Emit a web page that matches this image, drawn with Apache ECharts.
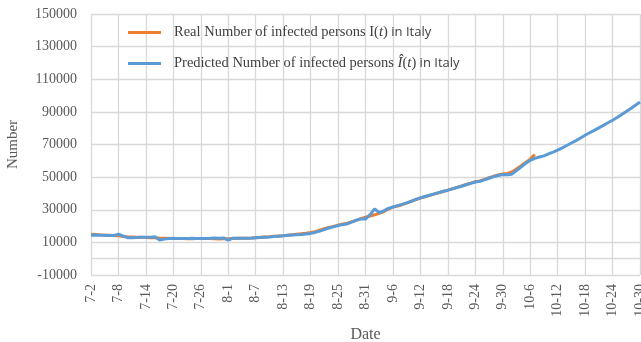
<!DOCTYPE html>
<html>
<head>
<meta charset="utf-8">
<script src="https://cdn.jsdelivr.net/npm/echarts@6/dist/echarts.min.js"></script>
<style>
html,body{margin:0;padding:0;background:#fff;}
#c{width:641px;height:342px;}
</style>
</head>
<body>
<div id="c"></div>
<script>
// Categories: 7-2 .. 10-30
var categories = [];
(function(){
  var months = [[7,2,31],[8,1,31],[9,1,30],[10,1,30]];
  months.forEach(function(m){ for (var d=m[1]; d<=m[2]; d++) categories.push(m[0]+'-'+d); });
})();

var realValues = [
15000,14800,14600,14400,14300,14200,14000,13600,13400,13300,
13200,13100,13000,12900,12800,12600,12500,12400,12400,12300,
12300,12200,12200,12300,12300,12300,12300,12200,12100,12200,
12200,12400,12500,12500,12600,12700,12900,13100,13300,13400,
13700,13900,14100,14400,14700,15000,15300,15600,16000,16600,
17500,18400,19200,19800,20600,21300,21800,22700,23500,24600,
25500,26200,26900,27800,28900,30400,31600,32300,33100,34100,
35100,36200,37200,38000,38800,39600,40400,41200,42000,42900,
43700,44600,45500,46300,47200,47700,48600,49600,50500,51300,
51900,52300,53200,55000,57000,59000,61000,63800
];

var predictedValues = [
14400,14500,14400,14300,14200,14200,15000,13900,12900,12800,
13000,13100,13100,13200,13400,11500,12000,12300,12500,12300,
12400,12300,12500,12400,12300,12400,12500,12700,12600,12700,
11400,12600,12500,12600,12500,12600,12800,13000,13200,13300,
13600,13700,14000,14300,14500,14600,14800,15200,15500,16100,
16900,17800,18800,19500,20300,20900,21300,22400,23600,24400,
24300,27000,30500,28200,29300,30800,31700,32500,33300,34200,
35200,36300,37300,38100,38900,39700,40500,41300,42000,42800,
43600,44400,45300,46200,47000,47500,48300,49300,50300,51000,
51600,51500,51800,54000,56200,58400,60300,61500,62300,63000,
64200,65300,66500,67900,69400,70900,72400,74000,75700,77200,
78700,80200,81700,83300,84900,86600,88400,90200,92100,94100,
96100
];

var yMin = -10000, yMax = 150000, yInterval = 20000;

var serif = '"Liberation Serif","Times New Roman",serif';
var chart = echarts.init(document.getElementById('c'));
chart.setOption({
  animation: false,
  backgroundColor: '#ffffff',
  grid: { left: 91, top: 14, right: 1, bottom: 67, containLabel: false, outerBoundsMode: 'none' },
  legend: {
    orient: 'vertical',
    left: 123,
    top: 20,
    itemWidth: 33,
    itemHeight: 3,
    itemGap: 16,
    icon: 'rect',
    data: ['real', 'pred'],
    formatter: function(name){
      if (name === 'real') return '{a|Real Number of infected persons I(}{i|t}{a|)} {b|in Italy}';
      return '{a|Predicted Number of infected persons }{i|Î}{a|(}{i|t}{a|)} {b|in Italy}';
    },
    textStyle: {
      padding: [0,0,0,8],
      rich: {
        a: { fontFamily: serif, fontSize: 14.5, color: '#404040' },
        i: { fontFamily: serif, fontSize: 15, fontStyle: 'italic', color: '#404040' },
        b: { fontFamily: '"Open Sans","Noto Sans",sans-serif', fontSize: 13, color: '#404040' }
      }
    }
  },
  xAxis: {
    type: 'category',
    data: categories,
    boundaryGap: false,
    name: 'Date',
    nameLocation: 'middle',
    nameGap: 52,
    nameTextStyle: { fontFamily: serif, fontSize: 16, color: '#595959' },
    axisLine: { show: false },
    axisTick: { show: false },
    axisLabel: { interval: 5, rotate: 90, margin: 9, fontFamily: serif, fontSize: 14, color: '#595959' },
    splitLine: { show: true, interval: 5, lineStyle: { color: '#d9d9d9', width: 1.3 } }
  },
  yAxis: {
    type: 'value',
    min: yMin, max: yMax, interval: yInterval,
    name: 'Number',
    nameLocation: 'middle',
    nameGap: 70,
    nameTextStyle: { fontFamily: serif, fontSize: 15, color: '#595959' },
    axisLine: { show: false },
    axisTick: { show: false },
    axisLabel: { margin: 14, fontFamily: serif, fontSize: 14, color: '#595959',
      formatter: function(v){ return String(v); } },
    splitLine: { show: true, lineStyle: { color: '#d9d9d9', width: 1.3 } }
  },
  series: [
    {
      name: 'real', type: 'line', data: realValues, showSymbol: false, symbol: 'none',
      color: '#ED7D31', lineStyle: { color: '#ED7D31', width: 3 },
      markLine: { silent: true, symbol: 'none', label: { show: false },
        lineStyle: { color: '#d9d9d9', width: 1.3, type: 'solid' }, data: [{ yAxis: 0 }] }
    },
    {
      name: 'pred', type: 'line', data: predictedValues, showSymbol: false, symbol: 'none',
      color: '#5B9BD5', lineStyle: { color: '#5B9BD5', width: 3 }
    }
  ]
});
</script>
</body>
</html>
